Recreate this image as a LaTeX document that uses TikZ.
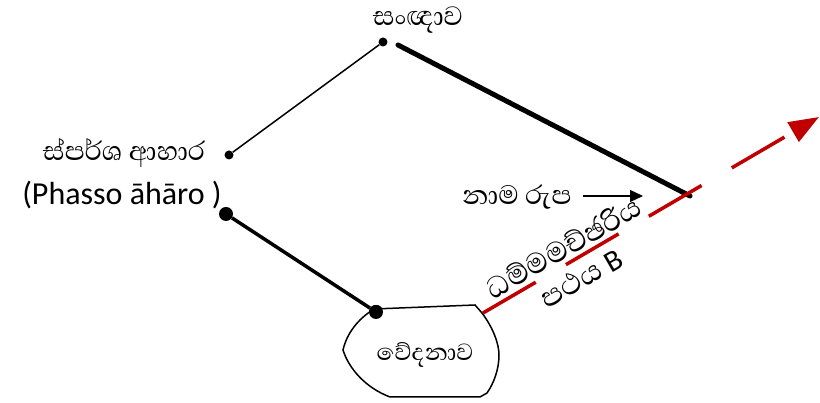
\documentclass[tikz,border=0pt]{standalone}
\usepackage{fontspec}
\setmainfont{Carlito}
\newfontfamily\sinhfont[Script=Sinhala]{Abhaya Libre}
\usetikzlibrary{arrows.meta}
\definecolor{darkred}{HTML}{C00000}
\begin{document}
\begin{tikzpicture}[x=1pt,y=1pt,
  dotsm/.style={circle,fill=black,inner sep=0pt,minimum size=9pt},
  dotlg/.style={circle,fill=black,inner sep=0pt,minimum size=14pt},
  si/.style={font=\sinhfont\fontsize{34}{36}\selectfont,inner sep=0pt},
  sirot/.style={font=\sinhfont\fontsize{37}{35}\selectfont,inner sep=0pt},
  lat/.style={font=\fontsize{32}{36}\selectfont,inner sep=0pt},
  thinline/.style={line width=1.5pt},
  medline/.style={line width=3.5pt},
  thickline/.style={line width=5pt,line cap=round},
  redarrow/.style={darkred,line width=3.5pt,dash pattern=on 61pt off 35pt,-{Triangle[length=30pt,width=22pt]}},
  blackarrow/.style={line width=1.2pt,-{Triangle[length=13pt,width=12pt]}},
  shapeline/.style={line width=1.5pt}]
\useasboundingbox (0,0) rectangle (820,403);
% texts
\node[si] (sanna) at (418,383) {සංඥාව};
\node[si] (spars) at (124,250) {ස්පර්ශ ආහාර};
\node[lat] (phasso) at (122,208) {(Phasso āhāro )};
\node[si] (nama) at (517,206) {නාම රුප};
% dots
\node[dotsm] (a) at (383,361) {};
\node[dotsm] (b) at (229,248) {};
\node[dotlg] (c) at (226,189) {};
\node[dotlg] (d) at (376,91) {};
\draw[thinline] (a) -- (b);
\draw[medline] (c) -- (d);
% thick line
\coordinate (ts) at (398,358);
\coordinate (te) at (690,207);
\draw[thickline] (ts) -- (te);
% black arrow
\coordinate (ns) at (583,207);
\coordinate (ne) at (643,207);
\draw[blackarrow] (ns) -- (ne);
% shape
\draw[shapeline,fill=white] (374,94) -- (475,98) -- (482,90)
  .. controls (494,74) and (499,58) .. (499,48)
  .. controls (499,34) and (494,20) .. (487,10) -- (480,6) -- (390,6)
  .. controls (366,15) and (349,34) .. (343,53)
  .. controls (347,70) and (358,84) .. (374,94) -- cycle;
\node[dotlg] at (376,91) {};
\node[si,font=\sinhfont\fontsize{30}{34}\selectfont] (ved) at (425,48) {වේදනාව};
% red arrow
\coordinate (rs) at (483,90);
\coordinate (re) at (819,286);
\draw[redarrow] (rs) -- (re);
\node[sirot,rotate=30,align=center] (dham) at (572,141) {ධම්මමච්ඡරිය\\පථය {\normalfont\fontsize{30}{35}\selectfont B}};
\end{tikzpicture}
\end{document}
